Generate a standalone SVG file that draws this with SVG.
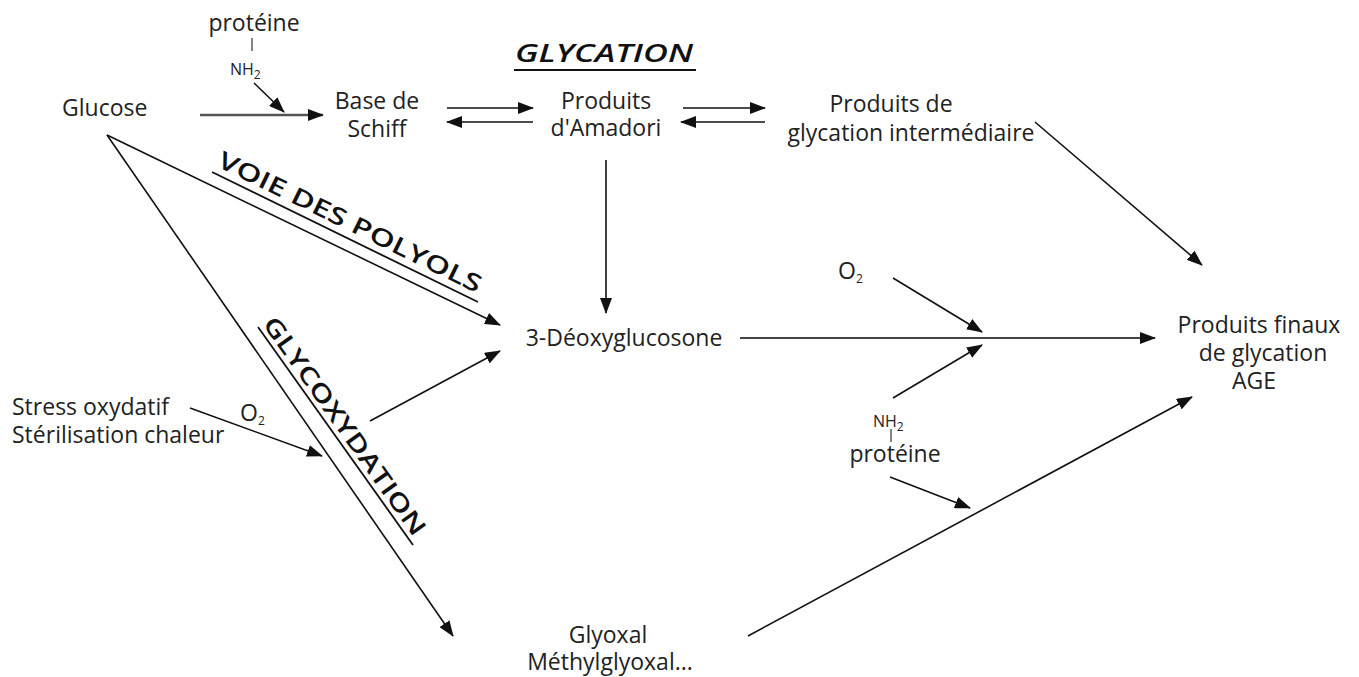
<svg xmlns="http://www.w3.org/2000/svg" width="1359" height="677" viewBox="0 0 1359 677">
<style>
.t{font-family:"Open Sans","Noto Sans",sans-serif;font-size:23px;fill:#222}
.s{font-family:"Open Sans","Noto Sans",sans-serif;font-size:16px;fill:#222}
.sub{font-size:12px}
.title{font-family:"Open Sans","Noto Sans",sans-serif;font-weight:600;fill:#111}
.ar{stroke:#111;stroke-width:1.6;fill:none;marker-end:url(#ah)}
.ul{stroke:#111;stroke-width:1.8}
</style>
<defs>
<marker id="ah" markerUnits="userSpaceOnUse" markerWidth="16" markerHeight="12" refX="15" refY="6" orient="auto">
<path d="M0,0 L16,6 L0,12 z" fill="#111"/>
</marker>
</defs>
<rect width="1359" height="677" fill="#fff"/>
<g id="labels">
<g id="glycation-title"><text class="title" x="515" y="62" font-size="25" font-style="italic" textLength="178" lengthAdjust="spacingAndGlyphs">GLYCATION</text><line class="ul" x1="514" y1="70" x2="696" y2="70"/></g>
<g id="polyols-title"><text class="title" font-size="24" transform="translate(216,166) rotate(26)" textLength="290" lengthAdjust="spacingAndGlyphs">VOIE DES POLYOLS</text><line class="ul" x1="212" y1="172" x2="478" y2="302"/></g>
<g id="glycox-title"><text class="title" font-size="24" transform="translate(262,324) rotate(54.6)" textLength="262" lengthAdjust="spacingAndGlyphs">GLYCOXYDATION</text><line class="ul" x1="258" y1="327" x2="413" y2="545"/></g>
</g>
<g id="connectors">
<line x1="200" y1="115" x2="323" y2="115" stroke="#555" stroke-width="2.4" marker-end="url(#ah)"/>
<line class="ar" x1="254" y1="83" x2="284" y2="112"/>
<line class="ar" x1="447" y1="108" x2="533" y2="108"/>
<line class="ar" x1="533" y1="122" x2="447" y2="122"/>
<line class="ar" x1="683" y1="108" x2="765" y2="108"/>
<line class="ar" x1="765" y1="122" x2="681" y2="122"/>
<line class="ar" x1="1035" y1="122" x2="1202" y2="265"/>
<line class="ar" x1="606" y1="160" x2="606" y2="313"/>
<line class="ar" x1="107" y1="135" x2="500" y2="325"/>
<line class="ar" x1="107" y1="135" x2="453" y2="636"/>
<line class="ar" x1="370" y1="421" x2="500" y2="351"/>
<line class="ar" x1="190" y1="408" x2="322" y2="456"/>
<line x1="740" y1="338" x2="1155" y2="338" stroke="#444" stroke-width="1.8" marker-end="url(#ah)"/>
<line class="ar" x1="893" y1="278" x2="982" y2="332"/>
<line class="ar" x1="893" y1="398" x2="982" y2="345"/>
<line class="ar" x1="890" y1="477" x2="970" y2="508"/>
<line class="ar" x1="748" y1="636" x2="1192" y2="397"/>
</g>
<g id="proteine-top"><text class="t" x="254" y="31" text-anchor="middle">protéine</text><line x1="252" y1="38" x2="252" y2="51" stroke="#444" stroke-width="1.3"/><text class="s" x="230" y="75">NH<tspan class="sub" dy="4">2</tspan></text></g>
<g id="glucose"><text class="t" x="62" y="116">Glucose</text></g>
<g id="base-schiff"><text class="t" x="377" y="109" text-anchor="middle">Base de</text><text class="t" x="377" y="137" text-anchor="middle">Schiff</text></g>
<g id="amadori"><text class="t" x="606" y="109" text-anchor="middle">Produits</text><text class="t" x="606" y="136" text-anchor="middle">d'Amadori</text></g>
<g id="intermediaire"><text class="t" x="891" y="112" text-anchor="middle">Produits de</text><text class="t" x="911" y="141" text-anchor="middle">glycation intermédiaire</text></g>
<g id="deoxyglucosone"><text class="t" x="624" y="346" text-anchor="middle">3-Déoxyglucosone</text></g>
<g id="o2-mid"><text class="t" x="838" y="279">O<tspan class="sub" font-size="15" dy="4">2</tspan></text></g>
<g id="proteine-bottom"><text class="s" x="873" y="427">NH<tspan class="sub" dy="4">2</tspan></text><line x1="891" y1="429" x2="891" y2="442" stroke="#444" stroke-width="1.3"/><text class="t" x="895" y="462" text-anchor="middle">protéine</text></g>
<g id="age"><text class="t" x="1259" y="333" text-anchor="middle">Produits finaux</text><text class="t" x="1263" y="361" text-anchor="middle">de glycation</text><text class="t" x="1254" y="389" text-anchor="middle">AGE</text></g>
<g id="stress"><text class="t" x="12" y="415">Stress oxydatif</text><text class="t" x="12" y="443">Stérilisation chaleur</text></g>
<g id="o2-left"><text class="t" x="240" y="421">O<tspan class="sub" font-size="15" dy="4">2</tspan></text></g>
<g id="glyoxal"><text class="t" x="608" y="643" text-anchor="middle">Glyoxal</text><text class="t" x="610" y="670" text-anchor="middle">Méthylglyoxal...</text></g>
</svg>
